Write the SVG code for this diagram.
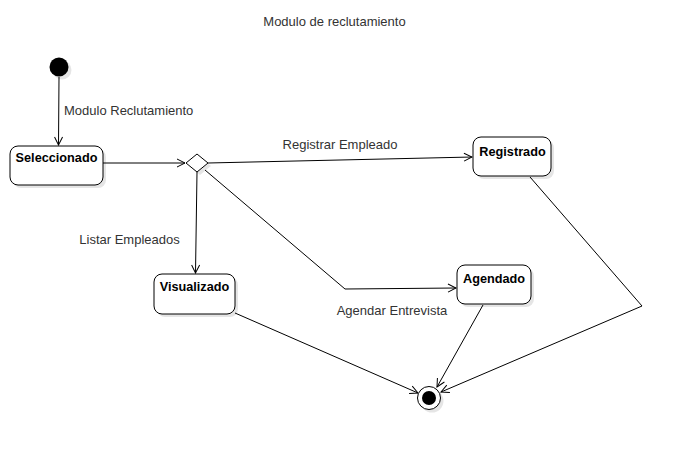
<svg xmlns="http://www.w3.org/2000/svg" width="683" height="451" viewBox="0 0 683 451">
<style>
text{font-family:"Liberation Sans",Arial,sans-serif;font-size:13px}
.lbl{fill:#333}
.nm{font-weight:bold;fill:#000;font-size:12.7px}
.box{fill:#fff;stroke:#000;stroke-width:1}
.sh{fill:#000;opacity:0.1}
.ln{fill:none;stroke:#000;stroke-width:1}
</style>
<defs>
<marker id="open" markerWidth="10" markerHeight="10" refX="9" refY="5" orient="auto" markerUnits="userSpaceOnUse">
<path d="M1,1 L9,5 L1,9" fill="none" stroke="#000" stroke-width="1"/>
</marker>
</defs>
<rect width="683" height="451" fill="#fff"/>
<text x="334.5" y="26" text-anchor="middle" class="lbl">Modulo de reclutamiento</text>
<g id="connectors">
<path class="ln" d="M59,77 L58.5,145" marker-end="url(#open)"/>
<path class="ln" d="M103,163 L185,163" marker-end="url(#open)"/>
<path class="ln" d="M208,163 L472,157" marker-end="url(#open)"/>
<path class="ln" d="M197,172 L195.5,273" marker-end="url(#open)"/>
<path class="ln" d="M205,170 L345,289 L456,288" marker-end="url(#open)"/>
<path class="ln" d="M235,313 L418,393" marker-end="url(#open)"/>
<path class="ln" d="M483,305 L437,387" marker-end="url(#open)"/>
<path class="ln" d="M530,177 L642,306 L441,392" marker-end="url(#open)"/>
<text x="64" y="115" class="lbl">Modulo Reclutamiento</text>
<text x="340" y="149" text-anchor="middle" class="lbl">Registrar Empleado</text>
<text x="129.5" y="244" text-anchor="middle" class="lbl">Listar Empleados</text>
<text x="392" y="315" text-anchor="middle" class="lbl">Agendar Entrevista</text>
</g>
<g id="start">
<circle cx="62" cy="70" r="9.5" class="sh"/>
<circle cx="59" cy="67" r="9.5" fill="#000"/>
</g>
<g id="seleccionado">
<rect x="13" y="149" width="93" height="39" rx="8" class="sh"/>
<rect x="10" y="146" width="93" height="39" rx="8" class="box"/>
<text x="56.5" y="162" text-anchor="middle" class="nm">Seleccionado</text>
</g>
<g id="decision">
<path d="M200,157 L211,166 L200,175 L189,166 Z" class="sh"/>
<path d="M197,154 L208,163 L197,172 L186,163 Z" class="box"/>
</g>
<g id="registrado">
<rect x="476" y="140" width="78" height="39" rx="8" class="sh"/>
<rect x="473" y="137" width="78" height="39" rx="8" class="box"/>
<text x="512.5" y="156" text-anchor="middle" class="nm">Registrado</text>
</g>
<g id="visualizado">
<rect x="157" y="277" width="81" height="40" rx="8" class="sh"/>
<rect x="154" y="274" width="81" height="40" rx="8" class="box"/>
<text x="194.5" y="291" text-anchor="middle" class="nm">Visualizado</text>
</g>
<g id="agendado">
<rect x="460" y="268" width="74" height="39" rx="8" class="sh"/>
<rect x="457" y="265" width="74" height="39" rx="8" class="box"/>
<text x="494" y="283" text-anchor="middle" class="nm">Agendado</text>
</g>
<g id="end">
<circle cx="432" cy="401" r="11.5" class="sh"/>
<circle cx="429" cy="398" r="11.5" fill="#fff" stroke="#000" stroke-width="1"/>
<circle cx="429" cy="398" r="7" fill="#000"/>
</g>
</svg>
